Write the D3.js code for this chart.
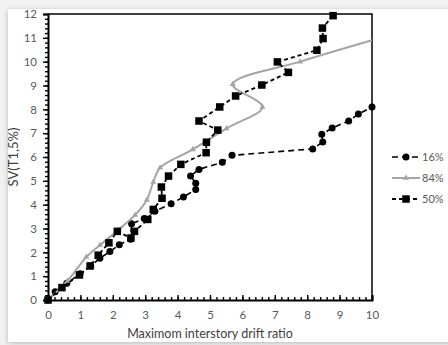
<!DOCTYPE html>
<html>
<head>
<meta charset="utf-8">
<script src="https://cdn.jsdelivr.net/npm/d3@7"></script>
<style>
  body { margin: 0; background: #eeeeee; }
  #chart { width: 448px; height: 345px; }
  text { font-family: Lato, "Open Sans", sans-serif; }
</style>
</head>
<body>
<div id="chart"></div>
<script>
// 16% fractile (circles)
const p16 = [[0,0],[0.22,0.35],[0.58,0.7],[0.99,1.1],[1.32,1.43],[1.6,1.75],[1.91,2.03],[2.2,2.32],[2.55,2.55],[2.58,3.2],[2.97,3.42],[3.3,3.72],[3.8,4.04],[4.18,4.32],[4.56,4.64],[4.56,4.9],[4.4,5.2],[4.66,5.48],[5.38,5.78],[5.68,6.07],[8.17,6.34],[8.48,6.63],[8.45,6.95],[8.77,7.22],[9.28,7.51],[9.58,7.8],[10,8.1]]
// 84% fractile (grey, smoothed)
const p84 = [[0,0],[0.6,0.8],[1.18,1.8],[1.6,2.3],[2.17,2.94],[2.69,3.57],[3.05,4.2],[3.25,4.95],[3.46,5.55],[4.47,6.32],[5.51,7.2],[6.62,8.1],[5.7,9.05],[7.78,10.0],[10,10.9]]
// 50% fractile (squares)
const p50 = [[0,0],[0.43,0.52],[0.97,1.05],[1.3,1.43],[1.55,1.88],[1.88,2.4],[2.14,2.88],[2.56,2.6],[2.67,2.88],[3.08,3.38],[3.25,3.8],[3.52,4.27],[3.5,4.74],[3.72,5.2],[4.1,5.69],[4.88,6.18],[4.89,6.62],[5.24,7.13],[4.66,7.51],[5.3,8.1],[5.79,8.56],[6.6,9.02],[7.42,9.55],[7.08,9.99],[8.3,10.48],[8.49,10.97],[8.47,11.41],[8.8,11.93]]

const xTicks = [0,1,2,3,4,5,6,7,8,9,10]
const yTicks = [0,1,2,3,4,5,6,7,8,9,10,11,12]
const legendLabels = ["16%", "84%", "50%"]

const W = 448, H = 345
const margin = {left: 48, right: 76, top: 14, bottom: 45}
const width = W - margin.left - margin.right
const height = H - margin.top - margin.bottom

const root = d3.select("#chart").append("svg")
    .attr("width", W).attr("height", H)

// soft shadowed frame
const defs = root.append("defs")
const f = defs.append("filter").attr("id", "sh").attr("x", "-5%").attr("y", "-5%").attr("width", "110%").attr("height", "110%")
f.append("feGaussianBlur").attr("in", "SourceAlpha").attr("stdDeviation", 2.5)
f.append("feOffset").attr("dx", 0).attr("dy", 1).attr("result", "b")
f.append("feComponentTransfer").append("feFuncA").attr("type", "linear").attr("slope", 0.25)
const m = f.append("feMerge")
m.append("feMergeNode")
m.append("feMergeNode").attr("in", "SourceGraphic")

root.append("rect").attr("x", 0).attr("y", 0).attr("width", W).attr("height", H).attr("fill", "#f1f1f1")
root.append("rect").attr("x", 8).attr("y", 9).attr("width", W).attr("height", 333)
    .attr("fill", "#fff").attr("filter", "url(#sh)")

const svg = root.append("g").attr("transform", `translate(${margin.left},${margin.top})`)

const x = d3.scaleLinear().domain([0, 10]).range([0, width])
const y = d3.scaleLinear().domain([0, 12]).range([height, 0])

// minor ticks
const minorX = d3.range(0, 10.001, 0.2)
const minorY = d3.range(0, 12.001, 0.2)
svg.append("g").attr("transform", `translate(0,${height})`)
    .call(d3.axisBottom(x).tickValues(minorX).tickSize(-3).tickFormat(""))
    .call(g => g.select(".domain").remove())
svg.append("g")
    .call(d3.axisLeft(y).tickValues(minorY).tickSize(3).tickFormat(""))
    .call(g => g.select(".domain").remove())

// major axes
svg.append("g").attr("class", "ax").attr("transform", `translate(0,${height})`)
    .call(d3.axisBottom(x).tickValues(xTicks).tickSize(-5).tickPadding(11).tickFormat(d3.format("d")))
svg.append("g").attr("class", "ax")
    .call(d3.axisLeft(y).tickValues(yTicks).tickSize(5).tickPadding(6).tickFormat(d3.format("d")))
svg.selectAll(".ax .domain").attr("stroke-width", 2)
svg.selectAll(".tick line").attr("stroke", "#000").attr("stroke-width", 1.4)
svg.selectAll(".ax text").attr("fill", "#595959").style("font-size", "11.5px")

// top and right border
svg.append("path").attr("d", `M0,0H${width}V${height}`)
    .attr("fill", "none").attr("stroke", "#000").attr("stroke-width", 1.5)

// labels
svg.append("text").attr("x", width / 2).attr("y", height + 38).attr("text-anchor", "middle")
    .attr("fill", "#404040").style("font-size", "12.5px").text("Maximom interstory drift ratio")
svg.append("text").attr("transform", `translate(${-30},${height / 2}) rotate(-90)`).attr("text-anchor", "middle")
    .attr("fill", "#404040").style("font-size", "13px").text("SV(T1,5%)")

const line = d3.line().x(d => x(d[0])).y(d => y(d[1]))

// 16%
svg.append("path").datum(p16).attr("d", line).attr("fill", "none")
    .attr("stroke", "#000").attr("stroke-width", 1.6).attr("stroke-dasharray", "6,4")
svg.selectAll(".c16").data(p16).enter().append("circle")
    .attr("cx", d => x(d[0])).attr("cy", d => y(d[1])).attr("r", 3.5).attr("fill", "#000")

// 84%
svg.append("path").datum(p84).attr("d", line.curve(d3.curveCatmullRom.alpha(0.5))).attr("fill", "none")
    .attr("stroke", "#a5a5a5").attr("stroke-width", 2)
const tri = d3.symbol().type(d3.symbolTriangle).size(16)
svg.selectAll(".t84").data(p84.slice(1, -1)).enter().append("path")
    .attr("d", tri).attr("transform", d => `translate(${x(d[0])},${y(d[1])})`).attr("fill", "#a5a5a5")

// 50%
svg.append("path").datum(p50).attr("d", d3.line().x(d => x(d[0])).y(d => y(d[1]))).attr("fill", "none")
    .attr("stroke", "#000").attr("stroke-width", 1.8).attr("stroke-dasharray", "4,3")
svg.selectAll(".s50").data(p50).enter().append("rect")
    .attr("x", d => x(d[0]) - 3.75).attr("y", d => y(d[1]) - 3.75).attr("width", 7.5).attr("height", 7.5).attr("fill", "#000")

// legend
const lg = root.append("g").attr("transform", "translate(392,157)")
legendLabels.forEach((lab, i) => {
    const g = lg.append("g").attr("transform", `translate(0,${i * 21})`)
    if (i === 1) {
        g.append("line").attr("x1", 0).attr("x2", 28).attr("stroke", "#a5a5a5").attr("stroke-width", 2)
        g.append("path").attr("d", tri).attr("transform", "translate(14,0)").attr("fill", "#a5a5a5")
    } else {
        g.append("line").attr("x1", 0).attr("x2", 28).attr("stroke", "#000")
            .attr("stroke-width", i === 0 ? 1.6 : 1.8).attr("stroke-dasharray", i === 0 ? "6,4" : "4,3")
        if (i === 0) g.append("circle").attr("cx", 14).attr("r", 3.5).attr("fill", "#000")
        else g.append("rect").attr("x", 10.25).attr("y", -3.75).attr("width", 7.5).attr("height", 7.5).attr("fill", "#000")
    }
    g.append("text").attr("x", 30).attr("dy", "0.35em").attr("fill", "#595959").style("font-size", "11px").text(lab)
})
</script>
</body>
</html>
